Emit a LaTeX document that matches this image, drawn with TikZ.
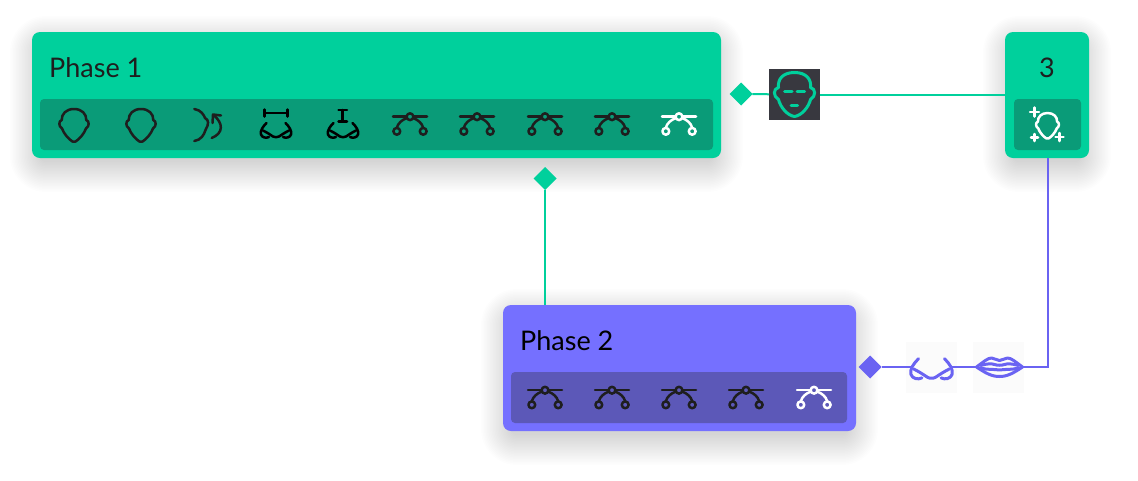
\documentclass[tikz,border=0pt]{standalone}
\usepackage{fontspec}
\setmainfont{Lato}
\usetikzlibrary{shapes.geometric}
\definecolor{grn}{HTML}{00D09C}
\definecolor{grnd}{HTML}{0A9B78}
\definecolor{pur}{HTML}{7570FF}
\definecolor{purd}{HTML}{5C58B8}
\definecolor{purl}{HTML}{6A63F2}
\definecolor{ink}{HTML}{1E1E1E}
\definecolor{tile}{HTML}{38383F}
\def\icw{2.5}
\newcommand{\softshadow}[4]{%
  \foreach \i in {0,1.5,...,30}{
    \fill[black,opacity=0.0075,rounded corners=6+\i] (#1+8-\i,#2+14-\i) rectangle (#3-8+\i,#4+4+\i);
  }}
\tikzset{
  x=1pt,y=-1pt,
  card/.style={rectangle,rounded corners=8,minimum width=#1,minimum height=126,inner sep=0,outer sep=0},
  tray/.style={rectangle,rounded corners=4,minimum width=#1,minimum height=51,inner sep=0,outer sep=0},
  tip/.style={diamond,aspect=1,inner sep=0,outer sep=0,minimum size=23,fill=#1},
  hook/.style={inner sep=0,outer sep=0,minimum size=#1},
  title/.style={anchor=base west,inner sep=0,font=\fontsize{27}{30}\selectfont},
  ico/.style={line width=\icw,line cap=round,line join=round},
  pics/head/.style={code={
    \draw[ico] (0,-16) .. controls (8,-16) and (12.5,-11) .. (12.3,-5)
      .. controls (15.5,-4) and (15.5,1.5) .. (12,3.5)
      .. controls (10,9) and (5,14.5) .. (1.5,16.5) -- (-1.5,16.5)
      .. controls (-5,14.5) and (-10,9) .. (-12,3.5)
      .. controls (-15.5,1.5) and (-15.5,-4) .. (-12.3,-5)
      .. controls (-12.5,-11) and (-8,-16) .. (0,-16) -- cycle;
  }},
  pics/sidehead/.style={code={
    \draw[ico] (-13.7,-16) .. controls (-7,-15) and (-4,-10) .. (-3,-7)
      .. controls (1,-5) and (1,-1) .. (-2.5,5)
      .. controls (-4,10) and (-7,15) .. (-13.7,16);
    \draw[ico] (3.7,13) .. controls (16,8) and (15,-2) .. (6,-9.5);
    \draw[ico] (13,-9.5) -- (5,-10.5) -- (4.5,-2);
  }},
  pics/nose/.style={code={
    \draw[ico] (-9.5,-7.5) .. controls (-13,-4) and (-16,0) .. (-15,4)
      .. controls (-14,7) and (-10,8) .. (-7,6.5);
    \draw[ico] (9.5,-7.5) .. controls (13,-4) and (16,0) .. (15,4)
      .. controls (14,7) and (10,8) .. (7,6.5);
    \draw[ico] (-13,0) .. controls (-9,2) and (-6,4) .. (-3,6)
      .. controls (-1.5,7) and (1.5,7) .. (3,6)
      .. controls (6,4) and (9,2) .. (13,0);
  }},
  pics/bez/.style={code={
    \draw[ico] (-17,-7.3) -- (-3.4,-7.3) (3.4,-7.3) -- (17,-7.3);
    \draw[ico] (0,-7.3) circle[radius=3.4];
    \draw[ico] (-13.2,7.3) circle[radius=3.4];
    \draw[ico] (13.2,7.3) circle[radius=3.4];
    \draw[ico] (-13.2,3.9) .. controls (-12,-1) and (-8,-4) .. (-3.2,-6);
    \draw[ico] (13.2,3.9) .. controls (12,-1) and (8,-4) .. (3.2,-6);
  }},
  pics/lips/.style={code={
    \draw[ico] (-23,0) .. controls (-16,-5) and (-12,-9) .. (-8,-9)
      .. controls (-5,-9) and (-3,-6.5) .. (0,-6.5)
      .. controls (3,-6.5) and (5,-9) .. (8,-9)
      .. controls (12,-9) and (16,-5) .. (23,0)
      .. controls (14,6) and (8,9.5) .. (0,9.5)
      .. controls (-8,9.5) and (-14,6) .. (-23,0) -- cycle;
    \draw[ico] (-19,-1.5) .. controls (-12,-3.5) and (-8,-3.5) .. (-5,-2.5)
      .. controls (-2,-1.5) and (2,-1.5) .. (5,-2.5)
      .. controls (8,-3.5) and (12,-3.5) .. (19,-1.5);
    \draw[ico] (-19,1) .. controls (-12,3) and (-6,2) .. (0,3)
      .. controls (6,2) and (12,3) .. (19,1);
  }},
  pics/face/.style={code={
    \draw[line width=3,line cap=round,line join=round] (0,-22) .. controls (12,-22) and (17,-15) .. (16,-7)
      .. controls (21.5,-6) and (21.5,2) .. (16,5)
      .. controls (14,13) and (7,21) .. (0,22)
      .. controls (-7,21) and (-14,13) .. (-16,5)
      .. controls (-21.5,2) and (-21.5,-6) .. (-16,-7)
      .. controls (-17,-15) and (-12,-22) .. (0,-22) -- cycle;
    \draw[line width=3,line cap=round] (-10,-3.5) -- (-2.5,-3.5) (2.5,-3.5) -- (10,-3.5) (-3.5,10.5) -- (3,10.5);
  }},
}
\begin{document}
\begin{tikzpicture}
\useasboundingbox (0,0) rectangle (1138,480);
\fill[white] (0,0) rectangle (1138,480);
\softshadow{32}{32}{721}{158}
\softshadow{1005}{32}{1089}{158}
\softshadow{503}{305}{856}{431}
\fill[black!1.5] (906,342) rectangle (957,393);
\fill[black!1.5] (973,342) rectangle (1024,393);

% cards
\node[card=689,fill=grn] (box1) at (376.5,95) {};
\node[tray=673,fill=grnd] (tray1) at (376.5,124.5) {};
\node[card=84,fill=grn] (box3) at (1047,95) {};
\node[tray=67,fill=grnd] (tray3) at (1047.5,124.5) {};
\node[card=353,fill=pur] (box2) at (679.5,368) {};
\node[tray=336,fill=purd] (tray2) at (679,397.5) {};

% titles
\node[title,text=ink] (t1) at (49,77) {Phase 1};
\node[title,text=ink,anchor=base] (t3) at (1047,77) {3};
\node[title,text=black] (t2) at (520,350) {Phase 2};

% connector ends
\node[tip=grn] (d1) at (741,94) {};
\node[tip=grn] (d2) at (545,178.5) {};
\node[tip=purl] (d3) at (870,367) {};
\node[rectangle,fill=tile,minimum size=51,inner sep=0,outer sep=0] (facebox) at (794.5,94.5) {};
\node[hook=41] (nosenode) at (931.5,367) {};
\node[hook=46] (lipsnode) at (999.5,367) {};
\coordinate (bend) at (1047.7,367);

% connectors
\draw[grn,line width=2] (d1) -- (facebox);
\draw[grn,line width=2] (facebox.east) -- (facebox.east -| box3.west);
\draw[grn,line width=2] (d2) -- (d2 |- box2.north);
\draw[purl,line width=2] (box3.south -| bend) -- (bend) -- (lipsnode.east);
\draw[purl,line width=2] (d3) -- (nosenode.west);
\draw[purl,line width=2] (nosenode.east) -- (lipsnode.west);

% icon pics
\pic[color=grn] at (facebox) {face};
\pic[color=ink] at (74,125) {head};
\pic[color=ink] at (141,125) {head};
\pic[color=ink] at (208,125) {sidehead};
\pic[color=black] at (276,130.5) {nose};
\draw[black,ico] (264.3,109.5) -- (264.3,116.5) (264.3,112.8) -- (287.3,112.8) (287.3,109.5) -- (287.3,116.5);
\pic[color=black] at (343,130.5) {nose};
\draw[black,ico] (338.5,110) -- (347,110) (342.7,110) -- (342.7,121.5) (338.5,121.5) -- (347,121.5);
\foreach \px in {410,477,545,612}{ \pic[color=ink] at (\px,124) {bez}; }
\pic[color=white] at (679,124) {bez};
\foreach \px in {545,612,679,746}{ \pic[color=ink] at (\px,397.5) {bez}; }
\pic[color=white] at (814,397.5) {bez};
\pic[color=white,scale=0.78] at (1047.5,125.5) {head};
\draw[white,ico] (1030,112) -- (1039,112) (1034.5,107.5) -- (1034.5,116.5)
  (1031,137.5) -- (1038,137.5) (1034.5,134) -- (1034.5,141)
  (1055.5,137) -- (1063.5,137) (1059.5,133) -- (1059.5,141);
\begin{scope}
\def\icw{3}
\pic[color=purl,scale=1.37] at (931.5,369) {nose};
\pic[color=purl] at (lipsnode) {lips};
\end{scope}
\end{tikzpicture}
\end{document}
